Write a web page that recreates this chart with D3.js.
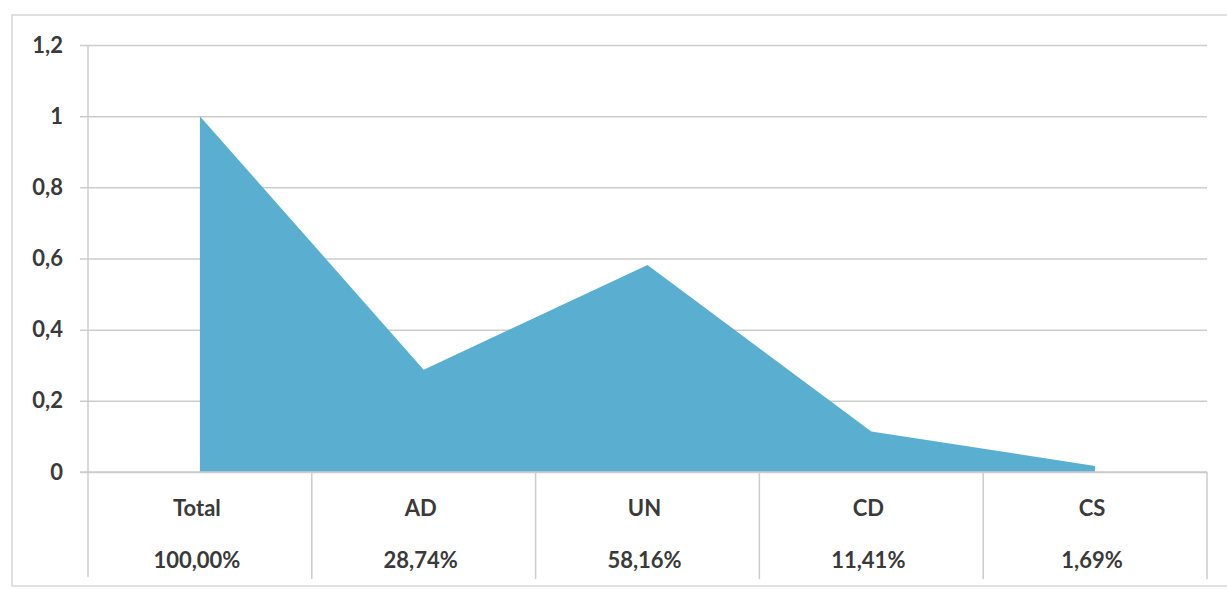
<!DOCTYPE html>
<html><head><meta charset="utf-8">
<script src="https://cdn.jsdelivr.net/npm/d3@7"></script>
<style>html,body{margin:0;padding:0;background:#fff;}svg{display:block;}</style>
</head><body>
<svg id="c" width="1227" height="589"></svg>
<script>
const categories = ["Total", "AD", "UN", "CD", "CS"];
const values = [1.0, 0.2874, 0.5816, 0.1141, 0.0169];
const pctLabels = ["100,00%", "28,74%", "58,16%", "11,41%", "1,69%"];
const yTicks = [0, 0.2, 0.4, 0.6, 0.8, 1, 1.2];

const svg = d3.select("#c");
const plotL = 88, plotR = 1207, plotT = 45, plotB = 472;
const x = d3.scaleBand().domain(categories).range([plotL, plotR]);
const y = d3.scaleLinear().domain([0, 1.2]).range([plotB, plotT]);
const fmt = v => String(v).replace(".", ",");
const font = "Lato, 'Open Sans', sans-serif";
const txt = "#3a3a3a", grid = "#cccccc";

// outer border
svg.append("rect").attr("x", 12).attr("y", 15).attr("width", 1230).attr("height", 571)
  .attr("fill", "none").attr("stroke", "#d6d6d6").attr("stroke-width", 1.5);

// gridlines + tick stubs
const yAxis = d3.axisLeft(y).tickValues(yTicks).tickSize(-(plotR - plotL)).tickPadding(18).tickFormat(fmt);
const ga = svg.append("g").attr("transform", `translate(${plotL},0)`).call(yAxis);
ga.select(".domain").remove();
ga.selectAll(".tick line").attr("stroke", grid).attr("stroke-width", 1.5).attr("x1", -8);
ga.selectAll(".tick text").attr("fill", txt).attr("font-family", font).attr("font-weight", "bold")
  .attr("font-size", 22).attr("x", -25);

// area
const area = d3.area()
  .x((d, i) => x(categories[i]) + x.bandwidth() / 2)
  .y0(y(0)).y1(d => y(d));
svg.append("path").datum(values).attr("d", area).attr("fill", "#5aafd1");

// baseline
svg.append("line").attr("x1", plotL - 8).attr("x2", plotR).attr("y1", y(0)).attr("y2", y(0))
  .attr("stroke", grid).attr("stroke-width", 1.5);

// vertical axis line and table separators
svg.append("line").attr("x1", plotL).attr("x2", plotL).attr("y1", plotT).attr("y2", 577)
  .attr("stroke", grid).attr("stroke-width", 1.5);
categories.forEach(c => {
  const xe = x(c) + x.bandwidth();
  svg.append("line").attr("x1", xe).attr("x2", xe).attr("y1", y(0)).attr("y2", 579)
    .attr("stroke", grid).attr("stroke-width", 1.5);
});

// category labels and percentages
const gx = svg.append("g");
gx.selectAll("text.cat").data(categories).join("text").attr("class", "cat")
  .attr("x", d => x(d) + x.bandwidth() / 2 - 3).attr("y", 516)
  .attr("text-anchor", "middle").attr("fill", txt).attr("font-family", font)
  .attr("font-weight", "bold").attr("font-size", 22).text(d => d);
gx.selectAll("text.pct").data(pctLabels).join("text").attr("class", "pct")
  .attr("x", (d, i) => x(categories[i]) + x.bandwidth() / 2 - 3).attr("y", 568)
  .attr("text-anchor", "middle").attr("fill", txt).attr("font-family", font)
  .attr("font-weight", "bold").attr("font-size", 22).text(d => d);
</script>
</body></html>
